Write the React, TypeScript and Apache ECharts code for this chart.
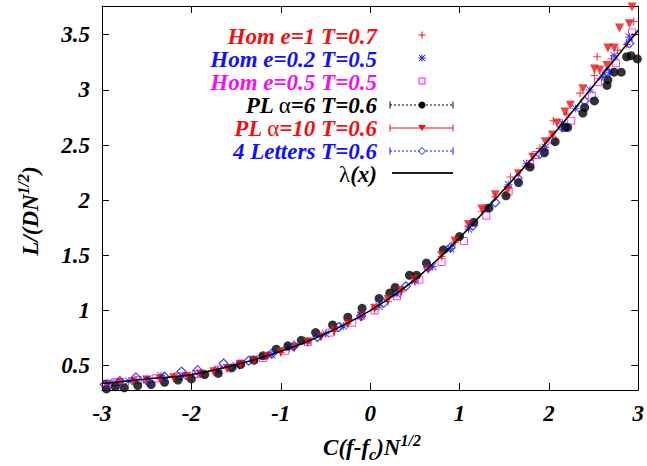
import React, { useEffect, useRef } from "react";
import * as echarts from "echarts";

const FONT = "Liberation Serif";
const RED = "#f01010";
const BLUE = "#1010ff";
const MAGENTA = "#f010f0";

// axis ticks
const xTicks = [-3, -2, -1, 0, 1, 2, 3];
const yTicks = [0.5, 1, 1.5, 2, 2.5, 3, 3.5];

// Hom e=1 T=0.7 (red plus)
const hom1X = [-2.95, -2.8, -2.65, -2.5, -2.35, -2.2, -2.05, -1.9, -1.75, -1.6, -1.45, -1.3, -1.15, -1.0, -0.85, -0.7, -0.55, -0.4, -0.25, -0.1, 0.05, 0.2, 0.35, 0.5, 0.65, 0.8, 0.95, 1.1, 1.25, 1.4, 1.57, 1.74, 1.9, 2.05, 2.2, 2.35, 2.51, 2.54, 2.7, 2.77, 2.87, 2.95];
const hom1Y = [0.34, 0.35, 0.36, 0.375, 0.385, 0.395, 0.41, 0.43, 0.455, 0.48, 0.515, 0.55, 0.59, 0.62, 0.665, 0.71, 0.77, 0.81, 0.88, 0.94, 1.01, 1.08, 1.17, 1.26, 1.37, 1.49, 1.62, 1.76, 1.9, 2.03, 2.21, 2.31, 2.47, 2.72, 2.78, 2.97, 3.13, 3.3, 3.28, 3.36, 3.41, 3.62];

// Hom e=0.2 T=0.5 (blue asterisk)
const hom02X = [-2.9, -2.7, -2.5, -2.34, -2.1, -1.9, -1.7, -1.5, -1.3, -1.1, -0.9, -0.7, -0.5, -0.3, -0.1, 0.1, 0.3, 0.5, 0.7, 0.9, 1.1, 1.3, 1.55, 1.75, 1.96, 2.15, 2.3, 2.46, 2.6, 2.68, 2.73, 2.9];
const hom02Y = [0.345, 0.36, 0.375, 0.41, 0.405, 0.425, 0.46, 0.5, 0.56, 0.6, 0.665, 0.725, 0.79, 0.86, 0.95, 1.04, 1.15, 1.27, 1.4, 1.56, 1.74, 1.93, 2.14, 2.33, 2.48, 2.7, 2.83, 3.0, 3.12, 3.16, 3.31, 3.48];

// Hom e=0.5 T=0.5 (magenta square)
const hom05X = [-2.85, -2.6, -2.4, -2.15, -1.95, -1.7, -1.45, -1.2, -0.95, -0.7, -0.45, -0.2, 0.05, 0.3, 0.55, 0.8, 1.05, 1.3, 1.55, 1.79, 1.85, 2.04, 2.25, 2.48, 2.55, 2.75, 2.93];
const hom05Y = [0.35, 0.37, 0.385, 0.405, 0.425, 0.465, 0.52, 0.57, 0.635, 0.715, 0.8, 0.89, 1.0, 1.13, 1.28, 1.44, 1.63, 1.86, 2.08, 2.33, 2.41, 2.55, 2.72, 2.95, 3.07, 3.24, 3.52];

// PL alpha=6 T=0.6 (black dots)
const pl6X = [-2.95, -2.85, -2.75, -2.6, -2.45, -2.3, -2.15, -2.0, -1.85, -1.7, -1.55, -1.45, -1.3, -1.2, -1.05, -0.92, -0.77, -0.61, -0.42, -0.25, -0.09, 0.1, 0.22, 0.28, 0.44, 0.52, 0.63, 0.82, 1.0, 1.16, 1.33, 1.52, 1.66, 1.79, 1.95, 2.07, 2.18, 2.21, 2.38, 2.4, 2.51, 2.65, 2.66, 2.73, 2.81, 2.87, 2.92, 2.99];
const pl6Y = [0.29, 0.31, 0.3, 0.32, 0.33, 0.35, 0.37, 0.38, 0.42, 0.43, 0.48, 0.51, 0.55, 0.59, 0.65, 0.68, 0.73, 0.8, 0.87, 0.94, 1.02, 1.11, 1.16, 1.21, 1.32, 1.32, 1.43, 1.55, 1.67, 1.8, 1.93, 2.04, 2.16, 2.3, 2.43, 2.53, 2.66, 2.66, 2.79, 2.84, 2.9, 3.04, 3.09, 3.16, 3.16, 3.3, 3.31, 3.28];

// PL alpha=10 T=0.6 (red triangles)
const pl10X = [-2.95, -2.8, -2.65, -2.5, -2.35, -2.2, -2.05, -1.9, -1.75, -1.6, -1.45, -1.3, -1.15, -1.0, -0.85, -0.7, -0.55, -0.4, -0.25, -0.1, 0.05, 0.2, 0.35, 0.5, 0.65, 0.8, 0.95, 1.1, 1.25, 1.4, 1.54, 1.66, 1.82, 1.96, 2.04, 2.09, 2.18, 2.24, 2.38, 2.51, 2.57, 2.65, 2.66, 2.73, 2.79, 2.9, 2.93];
const pl10Y = [0.33, 0.345, 0.355, 0.37, 0.38, 0.39, 0.405, 0.425, 0.445, 0.475, 0.51, 0.545, 0.585, 0.625, 0.665, 0.715, 0.76, 0.82, 0.88, 0.95, 1.02, 1.1, 1.18, 1.28, 1.38, 1.5, 1.63, 1.78, 1.92, 2.05, 2.09, 2.24, 2.39, 2.53, 2.59, 2.7, 2.8, 2.86, 3.01, 3.19, 3.18, 3.22, 3.38, 3.38, 3.56, 3.6, 3.75];

// 4 Letters T=0.6 (blue open diamonds)
const let4X = [-2.97, -2.8, -2.62, -2.49, -2.3, -2.11, -1.93, -1.64, -1.36, -1.1, -0.85, -0.59, -0.35, -0.1, 0.15, 0.4, 0.65, 0.9, 1.15, 1.4, 1.65, 1.9, 2.15, 2.4, 2.65, 2.9];
const let4Y = [0.33, 0.36, 0.395, 0.36, 0.4, 0.447, 0.46, 0.52, 0.545, 0.61, 0.68, 0.76, 0.85, 0.95, 1.07, 1.22, 1.39, 1.57, 1.77, 1.98, 2.2, 2.42, 2.66, 2.9, 3.16, 3.42];

// lambda(x) curve
const lamX = [-3, -2.5, -2, -1.5, -1, -0.5, 0, 0.5, 1, 1.5, 2, 2.5, 3];
const lamY = [0.34, 0.38, 0.42, 0.51, 0.63, 0.79, 1.0, 1.28, 1.66, 2.1, 2.55, 3.04, 3.54];

const zip = (xs: number[], ys: number[]) => xs.map((x, i) => [x, ys[i]]);

const PLUS = "path://M4.3,0H5.7V4.3H10V5.7H5.7V10H4.3V5.7H0V4.3H4.3Z";
const STAR =
  "path://M4.4,0H5.6V4.4H10V5.6H5.6V10H4.4V5.6H0V4.4H4.4Z M0.8,0L5,4.2L9.2,0L10,0.8L5.8,5L10,9.2L9.2,10L5,5.8L0.8,10L0,9.2L4.2,5L0,0.8Z";
const TRI = "path://M0,0H10L5,9Z";

const FS = 23;
const baseText = {
  fontFamily: FONT,
  fontSize: FS,
  fontWeight: "bold",
  fontStyle: "italic",
};

function legendText(y: number, text: string, color: string, rich?: any) {
  const style: any = {
    text,
    ...baseText,
    fill: color,
    align: "right",
    verticalAlign: "middle",
  };
  if (rich) style.rich = rich;
  return { type: "text", x: 377, y, silent: true, style };
}

const LX0 = 390;
const LX1 = 453;
const LXC = 422;

function sampleLine(y: number, color: string, dashed: boolean, width = 1) {
  const ls: any = { stroke: color, lineWidth: width };
  if (dashed) ls.lineDash = [2, 2];
  return [
    { type: "line", silent: true, shape: { x1: LX0, y1: y, x2: LX1, y2: y }, style: ls },
    { type: "line", silent: true, shape: { x1: LX0, y1: y - 3.5, x2: LX0, y2: y + 3.5 }, style: { stroke: color, lineWidth: 1 } },
    { type: "line", silent: true, shape: { x1: LX1, y1: y - 3.5, x2: LX1, y2: y + 3.5 }, style: { stroke: color, lineWidth: 1 } },
  ];
}

function greekRich(color: string) {
  return {
    b: { ...baseText, fill: color, color },
    g: { fontFamily: FONT, fontSize: FS, fontWeight: "normal", fontStyle: "normal", fill: color, color },
  };
}

export default function App() {
  const ref = useRef<HTMLDivElement>(null);
  useEffect(() => {
    if (!ref.current) return;
    const chart = echarts.init(ref.current, null, { renderer: "svg" });

    const axisCommon = {
      type: "value",
      axisLine: { show: true, onZero: false, lineStyle: { color: "#000", width: 1 } },
      axisTick: { show: true, inside: true, length: 7, lineStyle: { color: "#000", width: 1 } },
      splitLine: { show: false },
    };
    const labelStyle = {
      ...baseText,
      color: "#000",
      margin: 12,
    };

    const legendGraphics: any[] = [
      legendText(36, "Hom e=1 T=0.7", RED),
      legendText(59, "Hom e=0.2 T=0.5", BLUE),
      legendText(82, "Hom e=0.5 T=0.5", MAGENTA),
      legendText(105, "{b|PL }{g|α}{b|=6 T=0.6}", "#000", greekRich("#000")),
      legendText(128, "{b|PL }{g|α}{b|=10 T=0.6}", RED, greekRich(RED)),
      legendText(151, "4 Letters T=0.6", BLUE),
      legendText(174, "{g|λ}{b|(x)}", "#000", greekRich("#000")),
      // plus
      { type: "line", silent: true, shape: { x1: LXC - 3.5, y1: 35, x2: LXC + 3.5, y2: 35 }, style: { stroke: RED, lineWidth: 1 } },
      { type: "line", silent: true, shape: { x1: LXC, y1: 31.5, x2: LXC, y2: 38.5 }, style: { stroke: RED, lineWidth: 1 } },
      // asterisk
      { type: "line", silent: true, shape: { x1: LXC - 3.5, y1: 58, x2: LXC + 3.5, y2: 58 }, style: { stroke: BLUE, lineWidth: 1 } },
      { type: "line", silent: true, shape: { x1: LXC, y1: 54.5, x2: LXC, y2: 61.5 }, style: { stroke: BLUE, lineWidth: 1 } },
      { type: "line", silent: true, shape: { x1: LXC - 3, y1: 55, x2: LXC + 3, y2: 61 }, style: { stroke: BLUE, lineWidth: 1 } },
      { type: "line", silent: true, shape: { x1: LXC - 3, y1: 61, x2: LXC + 3, y2: 55 }, style: { stroke: BLUE, lineWidth: 1 } },
      // square
      { type: "rect", silent: true, shape: { x: LXC - 3, y: 78, width: 6, height: 6 }, style: { stroke: MAGENTA, fill: "none", lineWidth: 1 } },
      // PL a=6
      ...sampleLine(105, "#000", true),
      { type: "circle", silent: true, shape: { cx: LXC, cy: 105, r: 3.5 }, style: { fill: "#000" } },
      // PL a=10
      ...sampleLine(128, RED, false),
      { type: "polygon", silent: true, shape: { points: [[LXC - 4, 125], [LXC + 4, 125], [LXC, 131]] }, style: { fill: RED } },
      // 4 letters
      ...sampleLine(151, BLUE, true),
      { type: "polygon", silent: true, shape: { points: [[LXC, 147.5], [LXC + 3.5, 151], [LXC, 154.5], [LXC - 3.5, 151]] }, style: { fill: "#fff", stroke: BLUE, lineWidth: 1 } },
      // lambda line
      { type: "line", silent: true, shape: { x1: 392, y1: 173, x2: LX1, y2: 173 }, style: { stroke: "#222", lineWidth: 2 } },
    ];

    const titleGraphics: any[] = [
      {
        type: "text",
        x: 372,
        y: 447,
        silent: true,
        style: {
          text: "{a|C(f-f}{sub|c}{a|)N}{sup|1/2}",
          align: "center",
          verticalAlign: "middle",
          rich: {
            a: { ...baseText, fill: "#000", color: "#000", lineHeight: 30 },
            sub: { ...baseText, fontSize: 16, fill: "#000", color: "#000", verticalAlign: "bottom", lineHeight: 16 },
            sup: { ...baseText, fontSize: 16, fill: "#000", color: "#000", verticalAlign: "top", lineHeight: 16 },
          },
        },
      },
      {
        type: "text",
        x: 30,
        y: 211,
        rotation: Math.PI / 2,
        silent: true,
        style: {
          text: "{a|L/(DN}{sup|1/2}{a|)}",
          align: "center",
          verticalAlign: "middle",
          rich: {
            a: { ...baseText, fill: "#000", color: "#000", lineHeight: 30 },
            sup: { ...baseText, fontSize: 16, fill: "#000", color: "#000", verticalAlign: "top", lineHeight: 16 },
          },
        },
      },
    ];

    const option: any = {
      animation: false,
      backgroundColor: "#fff",
      textStyle: { fontFamily: FONT },
      grid: { left: 102, top: 6, width: 542, height: 384 },
      xAxis: [
        {
          ...axisCommon,
          position: "bottom",
          min: xTicks[0],
          max: xTicks[xTicks.length - 1],
          interval: 1,
          axisLabel: labelStyle,
        },
        {
          ...axisCommon,
          position: "top",
          min: xTicks[0],
          max: xTicks[xTicks.length - 1],
          interval: 1,
          axisLabel: { show: false },
        },
      ],
      yAxis: [
        {
          ...axisCommon,
          position: "left",
          min: 0.28,
          max: 3.76,
          axisTick: { ...axisCommon.axisTick, customValues: yTicks },
          axisLabel: { ...labelStyle, customValues: yTicks },
        },
        {
          ...axisCommon,
          position: "right",
          min: 0.28,
          max: 3.76,
          axisTick: { ...axisCommon.axisTick, customValues: yTicks },
          axisLabel: { show: false, customValues: yTicks },
        },
      ],
      series: [
        {
          name: "Hom e=1 T=0.7",
          type: "scatter",
          data: zip(hom1X, hom1Y),
          symbol: PLUS,
          symbolSize: 8,
          itemStyle: { color: RED },
          z: 2,
        },
        {
          name: "Hom e=0.2 T=0.5",
          type: "scatter",
          data: zip(hom02X, hom02Y),
          symbol: STAR,
          symbolSize: 8,
          itemStyle: { color: BLUE },
          z: 3,
        },
        {
          name: "Hom e=0.5 T=0.5",
          type: "scatter",
          data: zip(hom05X, hom05Y),
          symbol: "rect",
          symbolSize: 7,
          itemStyle: { color: "rgba(0,0,0,0)", borderColor: MAGENTA, borderWidth: 1 },
          z: 4,
        },
        {
          name: "PL α=6 T=0.6",
          type: "scatter",
          data: zip(pl6X, pl6Y),
          symbol: "circle",
          symbolSize: 9,
          itemStyle: { color: "#000" },
          z: 5,
        },
        {
          name: "PL α=10 T=0.6",
          type: "scatter",
          data: zip(pl10X, pl10Y),
          symbol: TRI,
          symbolSize: 9,
          itemStyle: { color: RED },
          z: 6,
        },
        {
          name: "4 Letters T=0.6",
          type: "scatter",
          data: zip(let4X, let4Y),
          symbol: "diamond",
          symbolSize: 9,
          itemStyle: { color: "rgba(0,0,0,0)", borderColor: BLUE, borderWidth: 1.2 },
          z: 7,
        },
        {
          name: "λ(x)",
          type: "line",
          data: zip(lamX, lamY),
          smooth: 0.4,
          showSymbol: false,
          symbol: "none",
          lineStyle: { color: "#000", width: 1.5 },
          z: 8,
        },
      ],
      graphic: [...legendGraphics, ...titleGraphics],
    };
    chart.setOption(option);
    return () => chart.dispose();
  }, []);

  return (
    <div
      ref={ref}
      style={{ position: "fixed", left: 0, top: 0, width: 647, height: 466, background: "#fff" }}
    />
  );
}
